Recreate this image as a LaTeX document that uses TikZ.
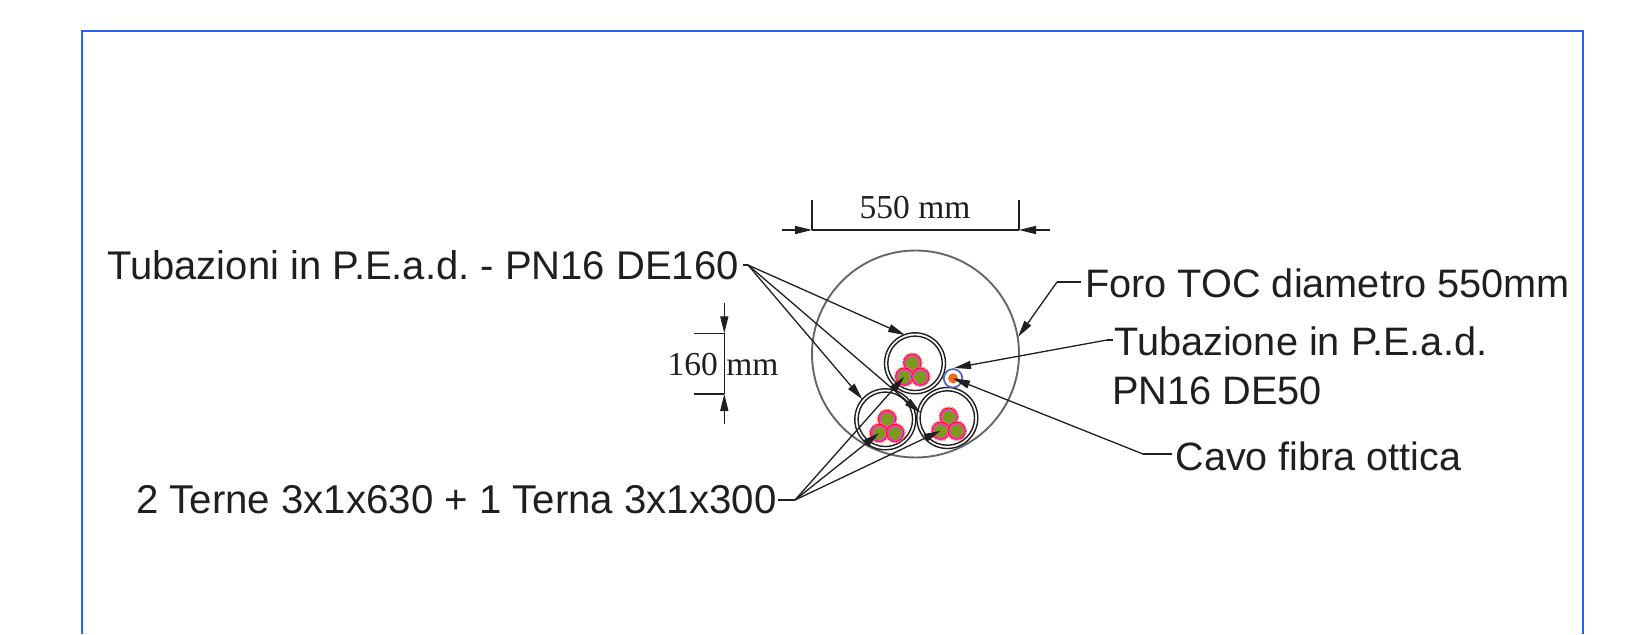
\documentclass[tikz,border=0pt]{standalone}
\usepackage{fontspec}
\setmainfont{Liberation Sans}
\newfontfamily\timesf{Liberation Serif}
\usetikzlibrary{arrows.meta}
\definecolor{frameblue}{HTML}{2A5FF5}
\definecolor{cablegreen}{HTML}{7B9A1E}
\definecolor{cablemag}{HTML}{EE3CC8}
\definecolor{fibreorange}{HTML}{F26A21}
\definecolor{fibreblue}{HTML}{4A66B8}
\tikzset{
  lbl/.style={inner sep=0pt,anchor=base west,font=\fontsize{#1}{41}\selectfont\frenchspacing,text=black!88},
  lbl/.default=39.7,
  dimlbl/.style={inner sep=0pt,anchor=base,font=\timesf\fontsize{33.5}{34}\selectfont,text=black!88},
  ld/.style={line width=1.3pt,black!88},
  arr/.style={ld,-{Triangle[length=17pt,width=8pt]}},
  pipe/.style={circle,draw=black!88,line width=1.4pt,inner sep=0pt,minimum size=#1},
  hole/.style={circle,draw=black!60,line width=1.9pt,inner sep=0pt,minimum size=207pt},
  halo/.style={circle,fill=cablemag,draw=red,line width=.7pt,inner sep=0pt,minimum size=17.5pt},
  core/.style={circle,fill=cablegreen,inner sep=0pt,minimum size=12.8pt},
  rim/.style={circle,draw=red!55!white,densely dotted,line width=1.2pt,inner sep=0pt,minimum size=19.5pt}
}
\newcommand{\triplet}[3]{%
  \foreach \dx/\dy/\s in {0/0/a,-8/14/b,8/14/c}{
    \node[rim] at ([shift={(\dx,\dy)}]#1,#2) {};
    \node[halo] at ([shift={(\dx,\dy)}]#1,#2) {};
    \node[core] (#3\s) at ([shift={(\dx,\dy)}]#1,#2) {};
  }}
\begin{document}
\begin{tikzpicture}[x=1pt,y=-1pt]
\useasboundingbox (0,0) rectangle (1637,634);
% frame
\coordinate (fa) at (82,634);
\coordinate (fb) at (82,31);
\coordinate (fc) at (1583,31);
\coordinate (fd) at (1583,634);
\draw[frameblue,line width=2.8pt,line join=miter] (fa) -- (fb) -- (fc) -- (fd);
% hole
\node[hole] (hole) at (915.5,354) {};
% pipes
\node[pipe=61pt] (pT) at (915,363.3) {};
\node[pipe=54.5pt] at (915,363.3) {};
\node[pipe=61pt] (pL) at (885.3,419.3) {};
\node[pipe=54.5pt] at (885.3,419.3) {};
\node[pipe=61pt] (pR) at (947.3,418) {};
\node[pipe=54.5pt] at (947.3,418) {};
% cables
\triplet{912.3}{362.7}{t}
\triplet{887}{419}{l}
\triplet{948.7}{416.7}{r}
% fibre
\node[circle,draw=fibreblue,fill=white,line width=1.7pt,inner sep=0pt,minimum size=18.5pt] (fo) at (953,378.3) {};
\node[circle,fill=fibreorange,inner sep=0pt,minimum size=10pt] (fi) at (953,378.3) {};
% texts
\node[lbl=40] (tA) at (107,279) {Tubazioni in P.E.a.d. - PN16 DE160};
\node[lbl=40.2] (tB) at (136,513) {2 Terne 3x1x630 + 1 Terna 3x1x300};
\node[lbl] (tC) at (1085,297) {Foro TOC diametro 550mm};
\node[lbl] (tD) at (1114,355) {Tubazione in P.E.a.d.};
\node[lbl] (tD2) at (1112,404) {PN16 DE50};
\node[lbl=39.5] (tE) at (1175.5,470) {Cavo fibra ottica};
\node[dimlbl] (dA) at (915,218) {550 mm};
\node[dimlbl] (dB) at (723,375) {160 mm};
% leaders: pipes
\coordinate (a0) at (742.5,265);
\coordinate (a1) at (748,265);
\coordinate (aT) at (905,335);
\coordinate (aL) at (862.3,399.3);
\coordinate (aR) at (920.7,413);
\draw[ld] (a0) -- (a1);
\draw[arr] (a1) -- (aT);
\draw[arr] (a1) -- (aL);
\draw[arr] (a1) -- (aR);
% leaders: cables
\coordinate (b0) at (778,500);
\coordinate (b1) at (795,500);
\draw[ld] (b0) -- (b1);
\draw[arr] (b1) -- (tb.center);
\draw[arr] (b1) -- (lb.center);
\draw[arr] (b1) -- (rb.center);
% leader: hole
\coordinate (c0) at (1081,282);
\coordinate (c1) at (1057,282);
\coordinate (c2) at (1018,337);
\draw[ld] (c0) -- (c1);
\draw[arr] (c1) -- (c2);
% leader: duct
\coordinate (d0) at (1113,340);
\coordinate (d1) at (1107,340);
\coordinate (d2) at (954,368);
\draw[ld] (d0) -- (d1);
\draw[arr] (d1) -- (d2);
% leader: fibre
\coordinate (e0) at (1172,454);
\coordinate (e1) at (1143,454);
\draw[ld] (e0) -- (e1);
\draw[arr] (e1) -- (fi.center);
% dimension 550
\coordinate (x1t) at (812,200);
\coordinate (x1b) at (812,230);
\coordinate (x2t) at (1019,200);
\coordinate (x2b) at (1019,230);
\coordinate (x1o) at (781.5,230);
\coordinate (x2o) at (1050,230);
\draw[ld] (x1t) -- (x1b);
\draw[ld] (x2t) -- (x2b);
\draw[ld] (x1b) -- (x2b);
\draw[arr] (x1o) -- (x1b);
\draw[arr] (x2o) -- (x2b);
% dimension 160
\coordinate (y1l) at (694,333.3);
\coordinate (y1r) at (724.3,333.3);
\coordinate (y2l) at (694,394);
\coordinate (y2r) at (724.3,394);
\coordinate (y1o) at (724.3,303);
\coordinate (y2o) at (724.3,424);
\draw[ld] (y1l) -- (y1r);
\draw[ld] (y2l) -- (y2r);
\draw[ld] (y1r) -- (y2r);
\draw[arr] (y1o) -- (y1r);
\draw[arr] (y2o) -- (y2r);
\end{tikzpicture}
\end{document}
